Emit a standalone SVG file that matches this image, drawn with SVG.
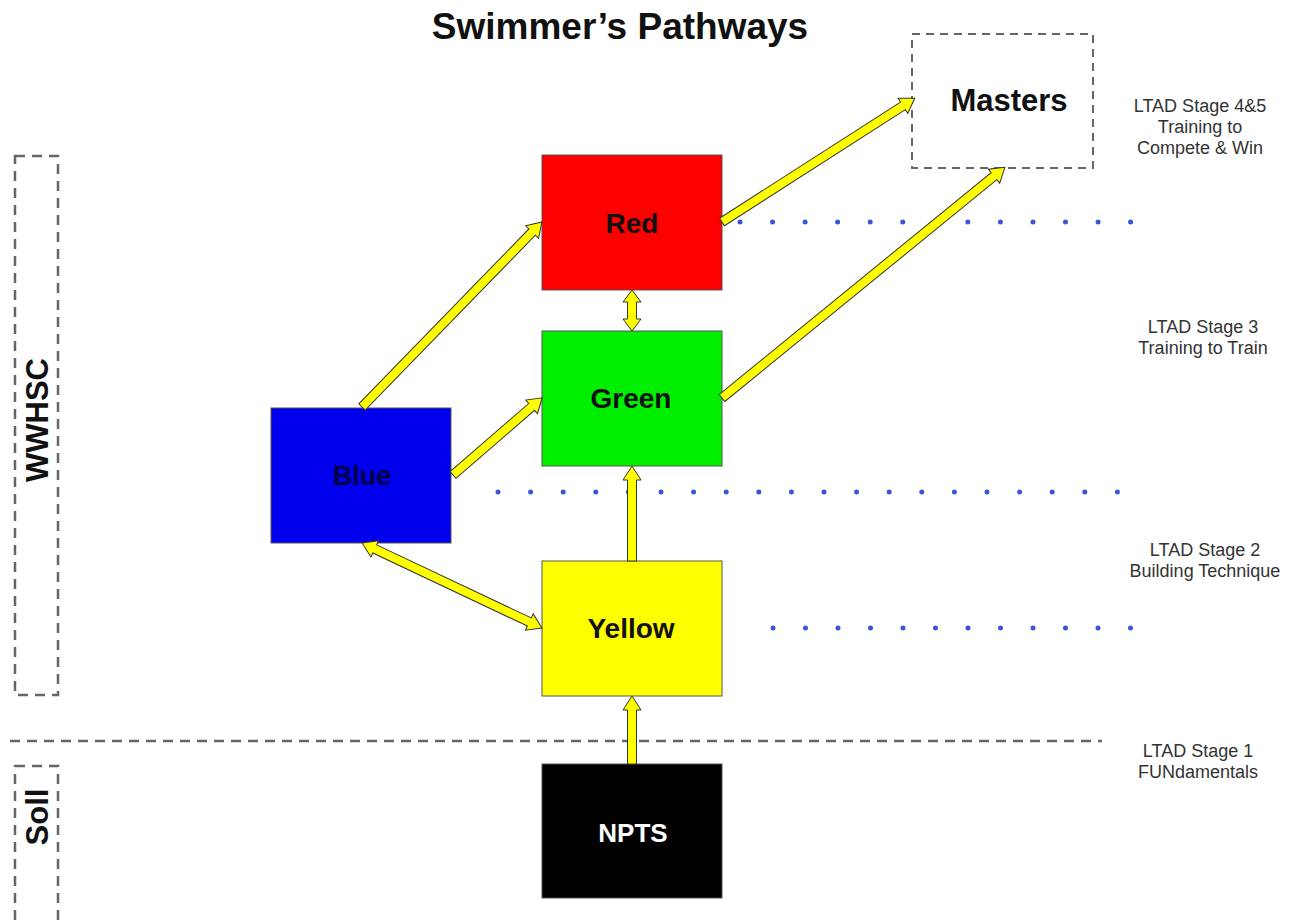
<svg xmlns="http://www.w3.org/2000/svg" width="1302" height="921" viewBox="0 0 1302 921">
<style>
.box{stroke:#555;stroke-width:1}
.lbl{font-family:"Liberation Sans",Arial,sans-serif;font-weight:bold;font-size:28px;text-anchor:middle;fill:#111}
.side{font-family:"Liberation Sans",Arial,sans-serif;font-size:18px;text-anchor:middle;fill:#333}
.dash{fill:none;stroke:#666;stroke-width:2.5;stroke-dasharray:10 7}
.dots{stroke:#3a56d8;stroke-width:5;stroke-linecap:round;fill:none}
.arr{fill:#ffff00;stroke:#333;stroke-width:1;stroke-linejoin:miter}
</style>
<rect width="1302" height="921" fill="#fff"/>
<text x="620" y="39" class="lbl" style="font-size:37px">Swimmer’s Pathways</text>

<g id="dividers">
<line x1="10" y1="741" x2="1102" y2="741" class="dash"/>
<line x1="740" y1="222" x2="1131" y2="222" class="dots" stroke-dasharray="0 32.55"/>
<line x1="498" y1="492" x2="1118" y2="492" class="dots" stroke-dasharray="0 32.6"/>
<line x1="773" y1="628" x2="1131" y2="628" class="dots" stroke-dasharray="0 32.5"/>
</g>

<g id="wwhsc">
<rect x="15" y="156" width="43" height="539" class="dash"/>
<text transform="translate(48,420) rotate(-90)" class="lbl" style="font-size:31px">WWHSC</text>
</g>
<g id="soll">
<rect x="15" y="766" width="43" height="170" class="dash"/>
<text transform="translate(48,817) rotate(-90)" class="lbl" style="font-size:31px">Soll</text>
</g>

<g id="masters">
<rect x="912" y="34" width="181" height="134" class="dash" style="stroke-width:2;stroke-dasharray:8 6"/>
<text x="1009" y="111" class="lbl" style="font-size:31px">Masters</text>
</g>
<g id="red">
<rect x="542" y="155" width="180" height="135" fill="#ff0000" class="box"/>
<text x="632" y="233" class="lbl">Red</text>
</g>
<g id="green">
<rect x="542" y="331" width="180" height="135" fill="#00ee00" class="box"/>
<text x="631" y="408" class="lbl">Green</text>
</g>
<g id="blue">
<rect x="271" y="408" width="180" height="135" fill="#0000ee" class="box"/>
<text x="362" y="485" class="lbl" style="font-size:27px;fill:#000044">Blue</text>
</g>
<g id="yellow">
<rect x="542" y="561" width="180" height="135" fill="#ffff00" class="box"/>
<text x="631" y="638" class="lbl">Yellow</text>
</g>
<g id="npts">
<rect x="542" y="764" width="180" height="134" fill="#000" class="box"/>
<text x="633" y="842" class="lbl" style="font-size:26px;fill:#fff">NPTS</text>
</g>

<g id="stages">
<text class="side" x="1200" y="112">LTAD Stage 4&amp;5</text>
<text class="side" x="1200" y="133">Training to</text>
<text class="side" x="1200" y="154">Compete &amp; Win</text>
<text class="side" x="1203" y="333">LTAD Stage 3</text>
<text class="side" x="1203" y="354">Training to Train</text>
<text class="side" x="1205" y="556">LTAD Stage 2</text>
<text class="side" x="1205" y="577">Building Technique</text>
<text class="side" x="1198" y="757">LTAD Stage 1</text>
<text class="side" x="1198" y="778">FUNdamentals</text>
</g>

<g id="connectors">
<polygon class="arr" transform="translate(722,222) rotate(-32.7)" points="0,-4.5 215,-4.5 215,-9 229,0 215,9 215,4.5 0,4.5"/>
<polygon class="arr" transform="translate(722,398) rotate(-39.2)" points="0,-4.5 351,-4.5 351,-9 365,0 351,9 351,4.5 0,4.5"/>
<polygon class="arr" transform="translate(362,407) rotate(-45.8)" points="0,-4.5 244,-4.5 244,-9 258,0 244,9 244,4.5 0,4.5"/>
<polygon class="arr" transform="translate(453,475) rotate(-40.9)" points="0,-4.5 104,-4.5 104,-9 118,0 104,9 104,4.5 0,4.5"/>
<polygon class="arr" transform="translate(542,628) rotate(-154.7)" points="0,0 14,-9 14,-4.5 185,-4.5 185,-9 199,0 185,9 185,4.5 14,4.5 14,9"/>
<polygon class="arr" transform="translate(632,331) rotate(-90)" points="0,0 12,-9 12,-4.5 29,-4.5 29,-9 41,0 29,9 29,4.5 12,4.5 12,9"/>
<polygon class="arr" transform="translate(632,561) rotate(-90)" points="0,-4.5 81,-4.5 81,-9 95,0 81,9 81,4.5 0,4.5"/>
<polygon class="arr" transform="translate(632,764) rotate(-90)" points="0,-4.5 54,-4.5 54,-9 68,0 54,9 54,4.5 0,4.5"/>
</g>
</svg>
